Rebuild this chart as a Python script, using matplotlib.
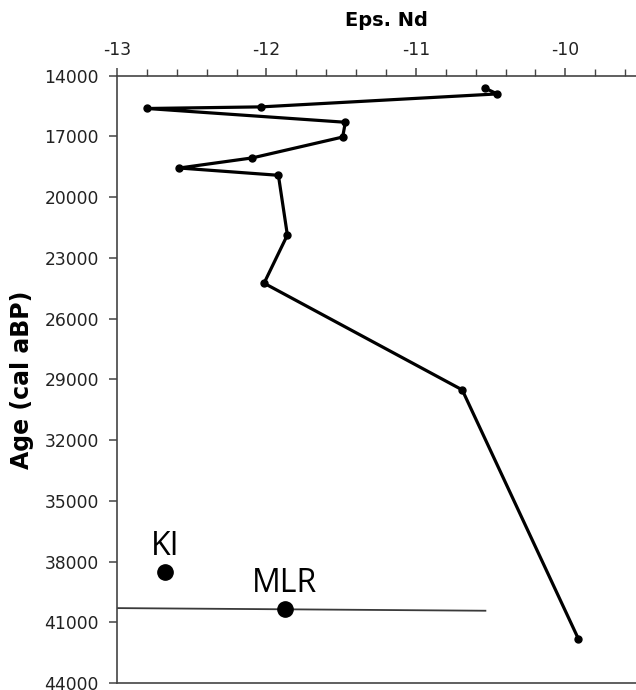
import numpy as np
import matplotlib.pyplot as plt
from matplotlib.ticker import MultipleLocator

plt.rcParams["axes.unicode_minus"] = False

# Eps Nd record (core)
age = [14620, 14900, 15540, 15620, 16300, 17030, 18060, 18560, 18920,
       21870, 24250, 29520, 41830]
eps_nd = [-10.536, -10.456, -12.034, -12.798, -11.472, -11.49, -12.094,
          -12.583, -11.92, -11.86, -12.016, -10.69, -9.912]

# reference samples
ref_names = ["KI", "MLR"]
ref_eps = [-12.68, -11.879]
ref_age = [38510, 40350]

# MLR range line
mlr_line_eps = [-13.0, -10.535]
mlr_line_age = [40300, 40430]

y_ticks = np.arange(14000, 44001, 3000)

fig = plt.figure(figsize=(6.36, 6.90), dpi=100)
ax = fig.add_axes([117 / 636, 1 - 683 / 690, (655 - 117) / 636, (683 - 75.7) / 690])

ax.plot(mlr_line_eps, mlr_line_age, color="#3a3a3a", lw=1.3, zorder=2)
ax.plot(eps_nd, age, color="black", lw=2.3, marker="o", markersize=5, zorder=3)
ax.plot(ref_eps, ref_age, "o", color="black", markersize=11, zorder=4, linestyle="none")
for name, x, y in zip(ref_names, ref_eps, ref_age):
    ax.annotate(name, (x, y), xytext=(0, 12.5), textcoords="offset points",
                ha="center", va="baseline", fontsize=23, family="Open Sans", color="black")

ax.set_xlim(-13, -9.40)
ax.set_ylim(44000, 14000)
ax.set_yticks(y_ticks)
ax.xaxis.set_major_locator(MultipleLocator(1))
ax.xaxis.set_minor_locator(MultipleLocator(0.2))

ax.xaxis.tick_top()
ax.xaxis.set_label_position("top")
ax.tick_params(axis="both", which="both", direction="out", color="#444444",
               labelsize=12.3, labelcolor="#222222")
ax.tick_params(axis="x", which="major", length=6, width=1.1, pad=6)
ax.tick_params(axis="x", which="minor", length=5, width=1.0)
ax.tick_params(axis="y", which="major", length=6, width=1.1, pad=7)
for sp in ax.spines.values():
    sp.set_color("#444444")
    sp.set_linewidth(1.2)

ax.set_xlabel("Eps. Nd", fontsize=14, fontweight="bold", labelpad=11)
ax.set_ylabel("Age (cal aBP)", fontsize=17, fontweight="bold")
ax.yaxis.set_label_coords(-(117 - 34) / 538, 0.5)

fig.savefig("out.png", dpi=100)
